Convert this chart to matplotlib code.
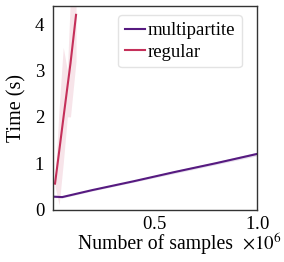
import matplotlib
matplotlib.use("Agg")
import matplotlib.pyplot as plt

plt.rcParams['font.family'] = ['Liberation Serif', 'DejaVu Serif']
plt.rcParams['mathtext.fontset'] = 'stix'

# multipartite timings
x_multi = [0.008e6, 0.055e6, 0.2e6, 0.4e6, 0.6e6, 0.8e6, 1.0e6]
y_multi = [0.28, 0.27, 0.42, 0.61, 0.81, 1.00, 1.20]
lo_multi = [0.26, 0.25, 0.40, 0.59, 0.78, 0.97, 1.16]
hi_multi = [0.30, 0.29, 0.44, 0.63, 0.84, 1.03, 1.24]

# regular timings
x_reg = [0.02e6, 0.04e6, 0.06e6, 0.08e6, 0.095e6, 0.122e6]
y_reg = [0.56, 1.25, 1.95, 2.64, 3.15, 4.2]
lo_reg = [0.50, 0.10, 1.00, 2.00, 2.00, 3.20]
hi_reg = [0.62, 2.20, 3.50, 3.00, 4.60, 5.20]

c_multi = '#561a80'
c_reg = '#c5305a'

fig = plt.figure(figsize=(2.84, 2.62), dpi=100)
ax = fig.add_axes([0.185, 0.2, 0.72, 0.777])

ax.fill_between(x_multi, lo_multi, hi_multi, color=c_multi, alpha=0.15, lw=0)
ax.plot(x_multi, y_multi, color=c_multi, lw=1.5, label='multipartite')
ax.fill_between(x_reg, lo_reg, hi_reg, color=c_reg, alpha=0.13, lw=0)
ax.plot(x_reg, y_reg, color=c_reg, lw=1.5, label='regular')

ax.set_xlim(0.008e6, 1.0e6)
ax.set_ylim(0, 4.39)
ax.set_xticks([0.5e6, 1.0e6])
ax.set_yticks([0, 1, 2, 3, 4])
ax.ticklabel_format(axis='x', style='sci', scilimits=(0, 0), useMathText=True)
ax.xaxis.get_offset_text().set_visible(False)
ax.text(0.927, -0.196, r'$\times10^{6}$', transform=ax.transAxes,
        ha='left', va='baseline', fontsize=13.5)
ax.tick_params(axis='x', length=0, labelsize=13.5, pad=4.5)
ax.tick_params(axis='y', length=0, labelsize=13.5, pad=6)
for s in ax.spines.values():
    s.set_color('#333333')
    s.set_linewidth(1.0)

ax.set_xlabel('Number of samples', fontsize=14.2)
ax.xaxis.set_label_coords(0.505, -0.192, transform=ax.transAxes)
ax.xaxis.label.set_va('baseline')
ax.set_ylabel('Time (s)', fontsize=14.5, labelpad=6)
ax.legend(loc='upper right', fontsize=13.5, handlelength=1.05, handletextpad=0.15,
          borderpad=0.35, labelspacing=0.25, framealpha=0.8, edgecolor='#dddddd',
          bbox_to_anchor=(0.97, 1.0))

fig.savefig('out.png', dpi=100)
